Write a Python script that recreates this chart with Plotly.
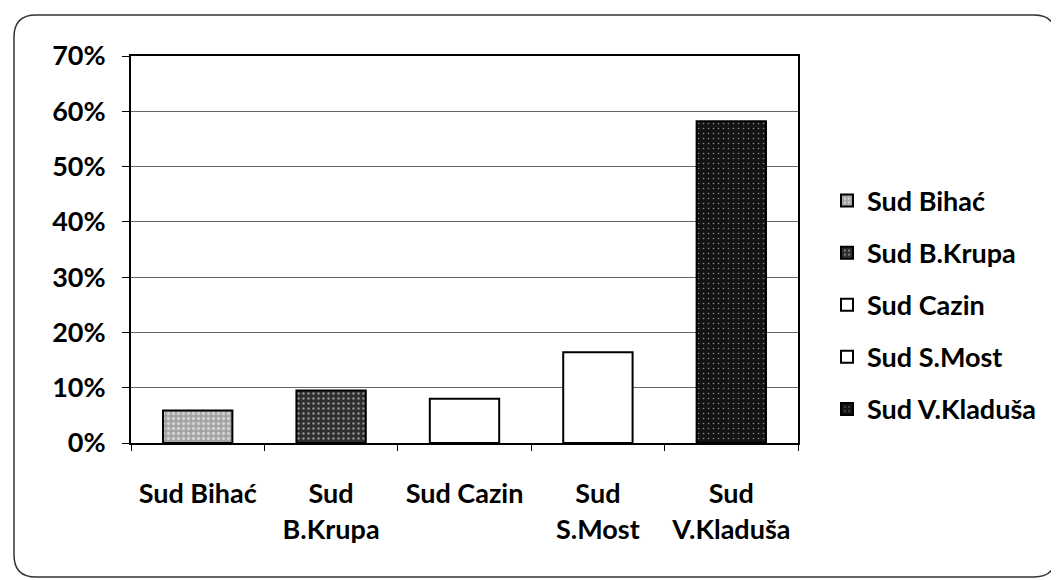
import plotly.graph_objects as go

# ---- data ----
categories = ["Sud Bihać", "Sud B.Krupa", "Sud Cazin", "Sud S.Most", "Sud V.Kladuša"]
tick_labels = ["Sud Bihać", "Sud<br>B.Krupa", "Sud Cazin", "Sud<br>S.Most", "Sud<br>V.Kladuša"]
values = [0.059, 0.095, 0.080, 0.164, 0.582]
fill_colors = ["#a3a3a3", "#2e2e2e", "#ffffff", "#ffffff", "#141414"]
speckle = [0.35, 0.18, 0.0, 0.0, 0.08]
y_ticks = [0, 0.1, 0.2, 0.3, 0.4, 0.5, 0.6, 0.7]

OFF = 8  # page body margin offset
W, H = 1059 - OFF, 580 - OFF
L, R, T, B = 131 - OFF, 798 - OFF, 56 - OFF, 443 - OFF  # plot area in figure pixels

FONT = dict(family="Lato, 'Open Sans', sans-serif", size=27, color="#000000", weight="bold")

fig = go.Figure()
for cat, val, col, sp in zip(categories, values, fill_colors, speckle):
    marker = dict(color=col, line=dict(color="#000000", width=2))
    if sp > 0:
        marker["pattern"] = dict(shape=".", fgcolor="#ffffff", size=5, solidity=sp, fillmode="overlay")
    fig.add_trace(go.Bar(
        x=[cat], y=[val], name=cat, width=0.52, marker=marker,
        legendgroup=cat,
        hovertemplate="%{x}: %{y:.0%}<extra></extra>",
    ))

# rounded outer border (decoration), screen pixel -> paper conversion
def px(x):
    return (x - OFF - L) / (R - L)

def py(y):
    return (B - (y - OFF)) / (B - T)

bl, bt, br, bb, rad = 14, 15, 1056, 577, 22
path = (
    f"M {px(bl)},{py(bt + rad)} "
    f"Q {px(bl)},{py(bt)} {px(bl + rad)},{py(bt)} "
    f"L {px(br - rad)},{py(bt)} "
    f"Q {px(br)},{py(bt)} {px(br)},{py(bt + rad)} "
    f"L {px(br)},{py(bb - rad)} "
    f"Q {px(br)},{py(bb)} {px(br - rad)},{py(bb)} "
    f"L {px(bl + rad)},{py(bb)} "
    f"Q {px(bl)},{py(bb)} {px(bl)},{py(bb - rad)} Z"
)
fig.add_shape(type="path", path=path, xref="paper", yref="paper",
              line=dict(color="#333333", width=1.5), layer="below")

fig.update_layout(
    width=W, height=H,
    margin=dict(l=L, r=W - R, t=T, b=H - B, pad=0),
    paper_bgcolor="#ffffff", plot_bgcolor="#ffffff",
    barmode="overlay",
    font=FONT,
    showlegend=True,
    legend=dict(
        x=px(827), xanchor="left", y=py(305), yanchor="middle",
        font=FONT, tracegroupgap=14, bgcolor="rgba(0,0,0,0)",
        traceorder="grouped",
    ),
    xaxis=dict(
        categoryorder="array", categoryarray=categories,
        tickmode="array", tickvals=categories, ticktext=tick_labels,
        tickson="boundaries", ticks="outside", ticklen=6, tickcolor="#000000", tickwidth=1,
        showline=True, linecolor="#000000", linewidth=2, mirror=True,
        showgrid=False, ticklabelstandoff=26, tickfont=FONT,
    ),
    yaxis=dict(
        range=[0, 0.7], tickmode="array", tickvals=y_ticks, tickformat=".0%",
        ticks="outside", ticklen=7, tickcolor="#000000", tickwidth=1,
        showline=True, linecolor="#000000", linewidth=2, mirror=True,
        showgrid=True, gridcolor="#666666", gridwidth=1,
        zeroline=False, ticklabelstandoff=11, tickfont=FONT,
    ),
)

fig.write_html("out.html")
